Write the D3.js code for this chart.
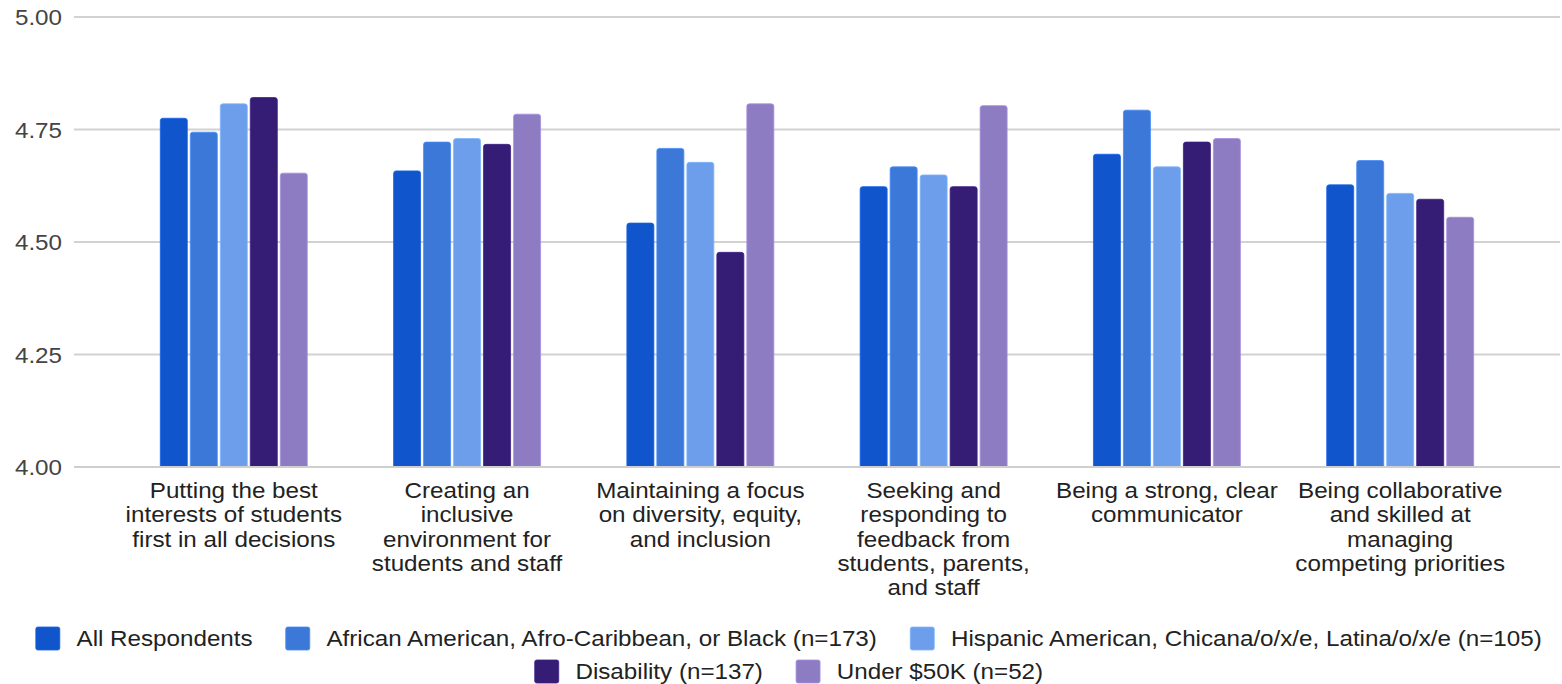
<!DOCTYPE html>
<html>
<head>
<meta charset="utf-8">
<script src="https://cdn.jsdelivr.net/npm/d3@7"></script>
<style>
  html, body { margin: 0; padding: 0; background: #fff; }
  svg { display: block; }
  text { font-family: "Liberation Sans", Arial, sans-serif; }
</style>
</head>
<body>
<svg id="chart" width="1562" height="684"></svg>
<script>
// ---------- DATA ----------
const categories = [
  ["Putting the best", "interests of students", "first in all decisions"],
  ["Creating an", "inclusive", "environment for", "students and staff"],
  ["Maintaining a focus", "on diversity, equity,", "and inclusion"],
  ["Seeking and", "responding to", "feedback from", "students, parents,", "and staff"],
  ["Being a strong, clear", "communicator"],
  ["Being collaborative", "and skilled at", "managing", "competing priorities"]
];
const seriesNames = [
  "All Respondents",
  "African American, Afro-Caribbean, or Black (n=173)",
  "Hispanic American, Chicana/o/x/e, Latina/o/x/e (n=105)",
  "Disability (n=137)",
  "Under $50K (n=52)"
];
const allRespondents = [4.775, 4.658, 4.542, 4.623, 4.695, 4.627];
const africanAmerican = [4.744, 4.722, 4.708, 4.667, 4.793, 4.681];
const hispanicAmerican = [4.807, 4.730, 4.677, 4.649, 4.667, 4.608];
const disability = [4.821, 4.717, 4.477, 4.623, 4.722, 4.595];
const under50k = [4.653, 4.784, 4.807, 4.803, 4.730, 4.555];
const seriesValues = [allRespondents, africanAmerican, hispanicAmerican, disability, under50k];
const seriesColors = ["#1155cc", "#3c78d8", "#6d9eeb", "#351c75", "#8e7cc3"];
const yTicks = [4.00, 4.25, 4.50, 4.75, 5.00];

// ---------- LAYOUT ----------
const svg = d3.select("#chart");
const plotLeft = 74, plotRight = 1560, plotTop = 17, plotBottom = 467;
const SX = 1.1;          // horizontal stretch of text in the reference
const FS = 22;

const catIdx = categories.map((d, i) => i);
const x0 = d3.scaleBand().domain(catIdx).range([plotLeft, plotRight])
  .paddingInner(0.37).paddingOuter(0.37);
const x1 = d3.scaleBand().domain(d3.range(seriesNames.length))
  .range([0, x0.bandwidth()]).paddingInner(0.1).paddingOuter(0);
const y = d3.scaleLinear().domain([4, 5]).range([plotBottom, plotTop]);

function stretchedText(g, x, yy, str, anchor, fill) {
  return g.append("text")
    .attr("transform", `translate(${x},${yy}) scale(${SX},1)`)
    .attr("text-anchor", anchor)
    .attr("font-size", FS)
    .attr("fill", fill)
    .text(str);
}

// gridlines + y labels
const grid = svg.append("g");
yTicks.forEach(t => {
  grid.append("line")
    .attr("x1", plotLeft).attr("x2", plotRight)
    .attr("y1", y(t)).attr("y2", y(t))
    .attr("stroke", "#d2d2d2").attr("stroke-width", 2);
  stretchedText(grid, 62, y(t) + 8, d3.format(".2f")(t), "end", "#444");
});

// bars
function topRounded(x, yTop, w, yBot, r) {
  return `M${x},${yBot}V${yTop + r}Q${x},${yTop} ${x + r},${yTop}H${x + w - r}Q${x + w},${yTop} ${x + w},${yTop + r}V${yBot}Z`;
}
const bars = svg.append("g");
catIdx.forEach(ci => {
  seriesValues.forEach((vals, si) => {
    const bx = x0(ci) + x1(si);
    bars.append("path")
      .attr("d", topRounded(bx, y(vals[ci]), x1.bandwidth(), y(4), 2.5))
      .attr("fill", seriesColors[si])
      .attr("stroke", d3.color(seriesColors[si]).brighter(0.4))
      .attr("stroke-width", 0.8);
  });
});

// baseline
svg.append("line")
  .attr("x1", plotLeft).attr("x2", plotRight)
  .attr("y1", y(4)).attr("y2", y(4))
  .attr("stroke", "#cfcfcf").attr("stroke-width", 2);

// category labels
const cl = svg.append("g");
categories.forEach((lines, ci) => {
  const cx = x0(ci) + x0.bandwidth() / 2;
  lines.forEach((ln, li) => {
    stretchedText(cl, cx, 498 + li * 24.3, ln, "middle", "#222");
  });
});

// legend
const lg = svg.append("g");
const rows = [[0, 1, 2], [3, 4]];
const rowCY = [638.5, 671.5];
const sw = 24, sh = 23, gapTxt = 16.7, gapItem = 33, centerX = 789;
rows.forEach((row, ri) => {
  // measure
  const widths = row.map(si => {
    const t = lg.append("text").attr("font-size", FS).text(seriesNames[si]);
    const w = t.node().getComputedTextLength() * SX;
    t.remove();
    return w;
  });
  const total = d3.sum(widths) + row.length * (sw + gapTxt) + (row.length - 1) * gapItem;
  let cx = centerX - total / 2;
  row.forEach((si, k) => {
    lg.append("rect")
      .attr("x", cx).attr("y", rowCY[ri] - sh / 2)
      .attr("width", sw).attr("height", sh)
      .attr("rx", 2).attr("ry", 2)
      .attr("fill", seriesColors[si])
      .attr("stroke", d3.color(seriesColors[si]).brighter(0.4))
      .attr("stroke-width", 0.8);
    stretchedText(lg, cx + sw + gapTxt, rowCY[ri] + 7.7, seriesNames[si], "start", "#222");
    cx += sw + gapTxt + widths[k] + gapItem;
  });
});
</script>
</body>
</html>
